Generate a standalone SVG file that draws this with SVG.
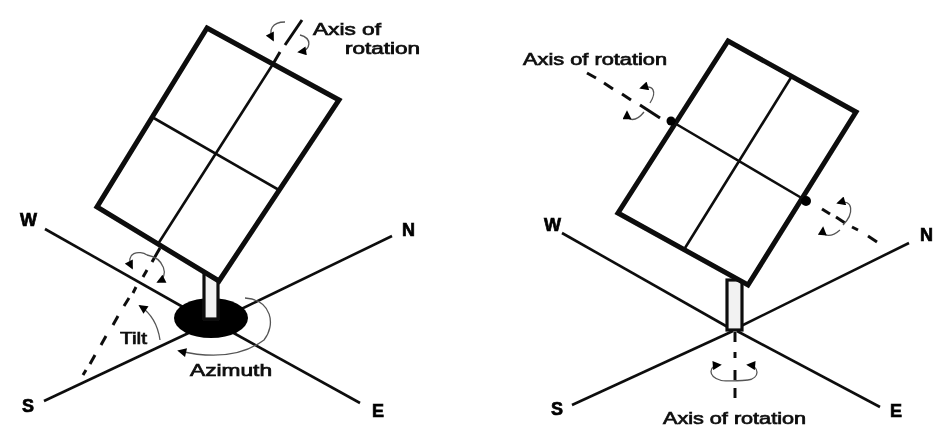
<svg xmlns="http://www.w3.org/2000/svg" width="935" height="438" viewBox="0 0 935 438">
<style>
.frame{fill:none;stroke:#0a0a0a;stroke-width:5;stroke-linejoin:miter}
.thin{fill:none;stroke:#111;stroke-width:2.6}
.dash{fill:none;stroke:#111;stroke-width:3}
.arc{fill:none;stroke:#555;stroke-width:1.3}
.pole{fill:#f2f2f2;stroke:#111;stroke-width:3.2}
text{font-family:"Liberation Sans",Arial,sans-serif;fill:#111}
.lab{font-size:16px;stroke:#111;stroke-width:.7}
.dir{font-size:18px;font-weight:bold;fill:#000;stroke:#000;stroke-width:.7}
</style>
<defs>
<marker id="ah" viewBox="0 0 10 10" refX="8" refY="5" markerWidth="10" markerHeight="9" markerUnits="userSpaceOnUse" orient="auto"><path d="M0 0L10 5L0 10z" fill="#000"/></marker>
<filter id="soft" x="-5%" y="-5%" width="110%" height="110%"><feGaussianBlur stdDeviation="0.6"/></filter>
</defs>
<rect width="935" height="438" fill="#fff"/>
<g filter="url(#soft)">
<g id="connectors">
<path class="thin" d="M45 229L190 311M392 236L235 312M44 401L195 330M360 403L230 331"/>
<path class="dash" d="M302 20L285 45M280 52L273 64"/>
<path class="dash" d="M160 248L152 262M147 270L143 277M136 287L133 293M129 298L124 306M118 316L113 325M106 336L101 345M95 355L90 364M86 370L83 375"/>
<path class="arc" d="M285 22C272 22 268 30 273 40" marker-end="url(#ah)"/>
<path class="arc" d="M300 35C312 38 312 50 299 52" marker-end="url(#ah)"/>
<path class="arc" d="M147 255C140 250 124 252 132 268" marker-end="url(#ah)"/>
<path class="arc" d="M147 255C164 258 170 276 158 282" marker-end="url(#ah)"/>
<path class="arc" d="M160 340C158 326 152 314 140 306" marker-end="url(#ah)"/>
<path class="arc" d="M245 298C272 300 276 325 264 340C240 358 210 358 179 351" marker-end="url(#ah)"/>
<path class="thin" d="M562 233L733 330M909 243L737 328M572 405L733 331M880 407L737 331"/>
<path class="dash" d="M587 73L596 78M604 83L613 89M622 94L631 100M640 105L660 118"/>
<path class="dash" d="M822 209L830 214M836 217L845 223M852 227L858 230M868 236L877 242"/>
<path class="dash" d="M735 332L735 342M735 352L735 358M735 370L735 380M735 388L735 398"/>
<path class="arc" d="M650 103C657 92 654 84 641 88" marker-end="url(#ah)"/>
<path class="arc" d="M644 112C636 122 627 122 627 112" marker-end="url(#ah)"/>
<path class="arc" d="M843 225C854 214 854 198 838 203" marker-end="url(#ah)"/>
<path class="arc" d="M840 230C832 237 822 238 823 228" marker-end="url(#ah)"/>
<path class="arc" d="M748 380C760 378 760 366 748 365" marker-end="url(#ah)"/>
<path class="arc" d="M748 380C735 381 722 381 720 380C708 376 708 366 720 365" marker-end="url(#ah)"/>
</g>
<g id="left-tracker">
<ellipse cx="211" cy="318" rx="37" ry="20" fill="#000"/>
<rect class="pole" x="204" y="270" width="14" height="49"/>
<path d="M207 28L339 100L219 281L97 207Z" fill="#fff"/>
<path class="frame" d="M207 28L339 100L219 281L97 207Z"/>
<path class="thin" d="M273 64L158 244M152 117L279 190"/>
</g>
<g id="right-tracker">
<rect class="pole" x="727" y="280" width="15" height="50"/>
<path d="M728 41L856 112L748 285L618 213Z" fill="#fff"/>
<path class="frame" d="M728 41L856 112L748 285L618 213Z"/>
<path class="thin" d="M792 76L685 248M671 121L805 200"/>
<circle cx="671" cy="121" r="4.5" fill="#000"/>
<circle cx="806" cy="201" r="5" fill="#000"/>
</g>
<g id="labels">
<text class="lab" x="313" y="35" textLength="68" lengthAdjust="spacingAndGlyphs">Axis of</text>
<text class="lab" x="345" y="54" textLength="75" lengthAdjust="spacingAndGlyphs">rotation</text>
<text class="lab" x="120" y="344" textLength="27" lengthAdjust="spacingAndGlyphs">Tilt</text>
<text class="lab" x="190" y="376" textLength="82" lengthAdjust="spacingAndGlyphs">Azimuth</text>
<text class="lab" x="523" y="65" textLength="144" lengthAdjust="spacingAndGlyphs">Axis of rotation</text>
<text class="lab" x="663" y="424" textLength="143" lengthAdjust="spacingAndGlyphs">Axis of rotation</text>
<text class="dir" x="20" y="226">W</text>
<text class="dir" x="402" y="236">N</text>
<text class="dir" x="22" y="412">S</text>
<text class="dir" x="372" y="417">E</text>
<text class="dir" x="544" y="231">W</text>
<text class="dir" x="920" y="241">N</text>
<text class="dir" x="551" y="415">S</text>
<text class="dir" x="890" y="417">E</text>
</g>
</g>
</svg>
